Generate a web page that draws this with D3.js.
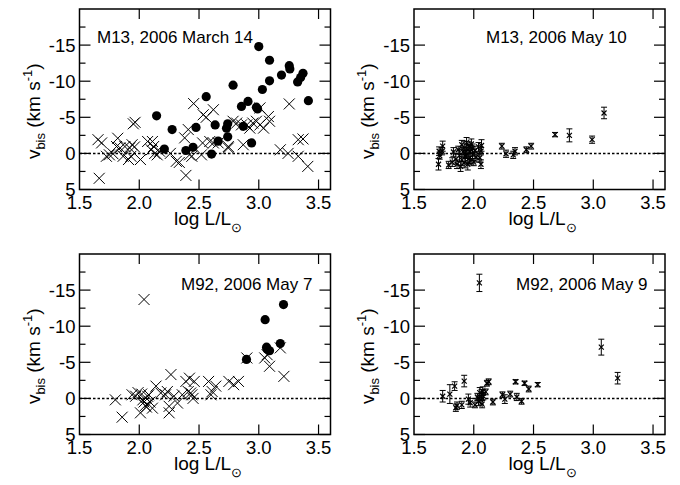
<!DOCTYPE html>
<html>
<head>
<meta charset="utf-8">
<script src="https://cdn.jsdelivr.net/npm/d3@7"></script>
<style>
  body { margin: 0; background: #fff; }
  text { font-family: "Liberation Sans", Arial, Helvetica, sans-serif; fill: #000; }
</style>
</head>
<body>
<div id="chart"></div>
<script>
// axis ticks (same for all four panels)
var xTicks = [1.5, 2.0, 2.5, 3.0, 3.5];
var yTicks = [-15, -10, -5, 0, 5];
var yMinor = [-17.5, -12.5, -7.5, -2.5, 2.5];

// M13, 2006 March 14 : [log L, v_bis]
var m13MarCircles = [
  [2.145,-5.2],[2.21,-0.6],[2.275,-3.3],[2.39,-0.4],[2.45,-0.85],[2.475,-3.6],[2.56,-7.85],
  [2.605,0.1],[2.635,-3.95],[2.66,-1.7],[2.73,-3.5],[2.74,-4.1],[2.74,-2.3],[2.785,-9.45],
  [2.855,-6.5],[2.87,-3.75],[2.91,-7.2],[2.94,-1.45],[2.98,-6.4],[2.99,-6.15],[3.0,-14.8],
  [3.03,-8.85],[3.09,-12.9],[3.09,-10.05],[3.19,-10.85],[3.255,-12.15],[3.26,-11.7],
  [3.325,-9.9],[3.35,-10.5],[3.37,-11.1],[3.415,-7.3]
];
var m13MarCrosses = [
  [1.665,3.45],[1.655,-1.9],[1.685,-1.45],[1.725,0.4],[1.75,0.2],[1.78,0.05],[1.82,-2.1],
  [1.81,-0.95],[1.84,-0.75],[1.865,0.4],[1.91,0.85],[1.93,0.4],[1.88,-0.95],[1.92,-0.75],
  [1.94,-1.2],[1.95,-4.1],[1.965,-4.3],[1.96,-0.9],[2.01,0.85],[2.07,-1.65],[2.11,-1.65],
  [2.12,-0.95],[2.13,0],[2.15,0.2],[2.17,-0.3],[2.1,-0.5],[2.26,0],[2.31,1.1],[2.335,1.25],
  [2.39,3.05],[2.38,-2.15],[2.41,-3.3],[2.42,0.2],[2.44,0.4],[2.455,-6.9],[2.535,-5.35],
  [2.56,-5.0],[2.62,-6.05],[2.53,-1.45],[2.59,-1.65],[2.62,-1.45],[2.66,-1.45],[2.52,0.2],
  [2.745,-0.95],[2.745,-0.75],[2.785,-4.45],[2.815,-4.2],[2.855,-3.95],[2.87,-1.2],[2.9,-3.95],
  [2.925,-3.5],[2.95,-4.2],[2.98,-4.45],[3.01,-3.95],[3.04,-3.5],[3.08,-5.1],[3.09,-4.45],
  [3.01,-6.3],[3.18,-0.5],[3.245,0],[3.33,0.4],[3.41,1.8],[3.255,-6.85],[3.33,-1.9],[3.37,-2.0]
];

// M13, 2006 May 10 : [log L, v_bis, error]
var m13MayPts = [
  [1.705,1.5,0.8],[1.71,-0.3,0.6],[1.715,0.3,0.5],[1.74,-1.0,0.7],[1.735,-0.3,0.5],[1.79,1.6,0.5],
  [1.82,1.2,0.6],[1.83,-0.2,0.6],[1.85,0.8,0.7],[1.86,1.5,0.6],[1.87,-0.5,0.5],[1.88,0.3,0.8],
  [1.89,1.8,0.7],[1.9,-1.2,0.6],[1.9,0.9,0.8],[1.91,-0.2,0.6],[1.92,1.3,0.7],[1.92,-0.8,0.9],
  [1.93,0.4,0.8],[1.94,-1.5,0.7],[1.94,0.1,0.6],[1.95,1.5,0.8],[1.95,-0.5,0.7],[1.96,-1.0,0.6],
  [1.96,0.7,0.7],[1.97,-0.2,0.9],[1.97,1.0,0.6],[1.98,-1.3,0.7],[1.99,0.2,0.8],[1.99,-0.7,0.6],
  [2.0,1.2,0.5],[2.01,-0.4,0.6],[2.02,0.5,0.7],[2.04,-0.9,0.6],[2.05,0.6,0.6],[2.06,1.5,0.6],
  [2.06,-0.3,0.5],[2.065,-1.1,0.8],[2.235,-1.0,0.4],[2.27,0.05,0.5],[2.33,0.2,0.5],[2.345,-0.3,0.5],
  [2.44,-0.5,0.4],[2.48,-1.0,0.4],[2.68,-2.6,0.3],[2.8,-2.5,0.9],[2.99,-1.9,0.5],[3.09,-5.6,0.8]
];

// M92, 2006 May 7
var m92May7Circles = [
  [2.897,-5.4],[3.053,-10.9],[3.065,-7.1],[3.07,-6.8],[3.09,-6.6],[3.18,-7.6],[3.207,-13.0]
];
var m92May7Crosses = [
  [1.8,0.2],[1.857,2.6],[1.94,-0.5],[1.97,-0.3],[2.01,2.0],[2.04,-13.7],[1.99,-0.8],[2.02,-0.6],
  [2.03,0.2],[2.04,0.5],[2.05,1.0],[2.06,1.2],[2.07,-0.3],[2.08,-0.5],[2.09,0.5],[2.11,1.35],
  [2.14,-1.7],[2.18,-0.75],[2.22,-0.5],[2.235,-0.95],[2.265,-3.3],[2.25,1.1],[2.25,2.0],[2.29,-0.3],
  [2.32,0.65],[2.36,-0.5],[2.39,-2.35],[2.42,-2.8],[2.41,-0.95],[2.43,-0.75],[2.44,-0.5],[2.45,0],
  [2.46,-2.35],[2.58,-2.35],[2.6,-0.5],[2.61,-0.95],[2.64,-1.7],[2.75,-2.35],[2.79,-1.9],[2.83,-2.35],
  [2.9,-5.6],[3.05,-5.6],[3.07,-6.05],[3.09,-4.45],[3.18,-7.0],[3.21,-3.05]
];

// M92, 2006 May 9 : [log L, v_bis, error]
var m92May9Pts = [
  [1.74,-0.3,0.8],[1.80,-0.6,1.3],[1.84,-1.7,0.6],[1.85,1.3,0.5],[1.86,1.0,0.5],[1.9,0.9,0.5],
  [1.92,-2.4,0.8],[1.955,0.1,0.7],[1.97,0.6,0.6],[2.01,0.9,0.4],[2.03,-0.2,0.5],[2.04,0.4,0.6],
  [2.05,-0.8,0.7],[2.06,0.2,0.6],[2.065,-0.5,0.7],[2.07,0.8,0.5],[2.075,-1.0,0.6],[2.08,-0.3,0.5],
  [2.1,-0.9,0.4],[2.11,-2.1,0.4],[2.125,-2.3,0.4],[2.16,0.5,0.4],[2.24,-0.5,0.4],[2.26,0.1,0.6],
  [2.305,-0.6,0.4],[2.35,-2.3,0.3],[2.36,-0.2,0.5],[2.4,0.4,0.4],[2.425,-2.1,0.3],[2.46,-1.3,0.4],
  [2.535,-1.9,0.3],[2.047,-16.0,1.2],[3.067,-7.1,1.1],[3.204,-2.8,0.8]
];

var width = 680, height = 485;
var pw = 251, ph = 180.5;

var svg = d3.select('#chart').append('svg')
    .attr('width', width)
    .attr('height', height);

var panels = [
  {x: 79.5, y: 9,   title: 'M13, 2006 March 14', tx: 97,  ty: 42.5, circles: m13MarCircles, crosses: m13MarCrosses},
  {x: 414,  y: 9,   title: 'M13, 2006 May 10',   tx: 486, ty: 42.5, errs: m13MayPts},
  {x: 79.5, y: 254, title: 'M92, 2006 May 7',    tx: 181, ty: 289.5, circles: m92May7Circles, crosses: m92May7Crosses},
  {x: 414,  y: 254, title: 'M92, 2006 May 9',    tx: 516, ty: 289.5, errs: m92May9Pts}
];

panels.forEach(function(p) {
  var x = d3.scaleLinear().domain([1.5, 3.6]).range([0, pw]);
  var y = d3.scaleLinear().domain([-20, 5]).range([0, ph]);
  var g = svg.append('g').attr('transform', 'translate(' + p.x + ',' + p.y + ')');

  // zero line
  g.append('line')
      .attr('x1', 0).attr('x2', pw)
      .attr('y1', y(0)).attr('y2', y(0))
      .attr('stroke', '#000').attr('stroke-width', 1.5)
      .attr('stroke-dasharray', '2.5,2');

  // ticks on all four sides, pointing inwards
  var ax = g.append('g').attr('stroke', '#000').attr('stroke-width', 1.2);
  xTicks.forEach(function(t) {
    if (t == 1.5) return;
    ax.append('line').attr('x1', x(t)).attr('x2', x(t)).attr('y1', 0).attr('y2', 10);
    ax.append('line').attr('x1', x(t)).attr('x2', x(t)).attr('y1', ph).attr('y2', ph - 10);
  });
  yTicks.forEach(function(t) {
    ax.append('line').attr('x1', 0).attr('x2', 11).attr('y1', y(t)).attr('y2', y(t));
    ax.append('line').attr('x1', pw).attr('x2', pw - 11).attr('y1', y(t)).attr('y2', y(t));
  });
  yMinor.forEach(function(t) {
    ax.append('line').attr('x1', 0).attr('x2', 6).attr('y1', y(t)).attr('y2', y(t));
    ax.append('line').attr('x1', pw).attr('x2', pw - 6).attr('y1', y(t)).attr('y2', y(t));
  });

  // tick labels
  g.selectAll('.xl').data(xTicks).enter().append('text')
      .attr('x', function(d) { return x(d); })
      .attr('y', ph + 19.5)
      .attr('text-anchor', 'middle')
      .style('font-size', '18.5px')
      .text(function(d) { return d3.format('.1f')(d); });
  g.selectAll('.yl').data(yTicks).enter().append('text')
      .attr('x', -4)
      .attr('y', function(d) { return y(d); })
      .attr('dy', '0.36em')
      .attr('text-anchor', 'end')
      .style('font-size', '18.5px')
      .text(function(d) { return d; });

  // axis titles
  var xt = g.append('text')
      .attr('x', pw / 2 + 3)
      .attr('y', ph + 35)
      .attr('text-anchor', 'middle')
      .style('font-size', '19px');
  xt.append('tspan').text('log L/L');
  xt.append('tspan').attr('dy', 7).style('font-size', '13px').text('\u2299');

  var yt = g.append('text')
      .attr('transform', 'translate(-40,' + (ph / 2 + 12) + ') rotate(-90)')
      .attr('text-anchor', 'middle')
      .style('font-size', '19px');
  yt.append('tspan').text('v');
  yt.append('tspan').attr('dy', 5).style('font-size', '13px').text('bis');
  yt.append('tspan').attr('dy', -5).text(' (km s');
  yt.append('tspan').attr('dy', -8).style('font-size', '13px').text('-1');
  yt.append('tspan').attr('dy', 8).text(')');

  // panel label
  svg.append('text')
      .attr('x', p.tx).attr('y', p.ty)
      .style('font-size', '17px')
      .text(p.title);

  // data marks
  if (p.crosses) {
    var s = 5.5;
    g.append('g').selectAll('path').data(p.crosses).enter().append('path')
        .attr('d', function(d) {
          var cx = x(d[0]), cy = y(d[1]);
          return 'M' + (cx - s) + ',' + (cy - s) + 'L' + (cx + s) + ',' + (cy + s) +
                 'M' + (cx - s) + ',' + (cy + s) + 'L' + (cx + s) + ',' + (cy - s);
        })
        .attr('stroke', '#000').attr('stroke-width', 1).attr('fill', 'none');
  }
  if (p.circles) {
    g.append('g').selectAll('circle').data(p.circles).enter().append('circle')
        .attr('cx', function(d) { return x(d[0]); })
        .attr('cy', function(d) { return y(d[1]); })
        .attr('r', 4.6)
        .attr('fill', '#000');
  }
  if (p.errs) {
    var e = g.append('g').selectAll('g').data(p.errs).enter().append('g');
    e.append('path')
        .attr('d', function(d) {
          var cx = x(d[0]), y1 = y(d[1] - d[2]), y2 = y(d[1] + d[2]), c = 3;
          return 'M' + cx + ',' + y1 + 'L' + cx + ',' + y2 +
                 'M' + (cx - c) + ',' + y1 + 'L' + (cx + c) + ',' + y1 +
                 'M' + (cx - c) + ',' + y2 + 'L' + (cx + c) + ',' + y2;
        })
        .attr('stroke', '#000').attr('stroke-width', 1).attr('fill', 'none');
    e.append('path')
        .attr('d', function(d) {
          var cx = x(d[0]), cy = y(d[1]), s = 2.5;
          return 'M' + (cx - s) + ',' + (cy - s) + 'L' + (cx + s) + ',' + (cy + s) +
                 'M' + (cx - s) + ',' + (cy + s) + 'L' + (cx + s) + ',' + (cy - s);
        })
        .attr('stroke', '#000').attr('stroke-width', 1.2).attr('fill', 'none');
  }

  // frame
  g.append('rect')
      .attr('width', pw).attr('height', ph)
      .attr('fill', 'none').attr('stroke', '#000').attr('stroke-width', 1.5);
});
</script>
</body>
</html>
